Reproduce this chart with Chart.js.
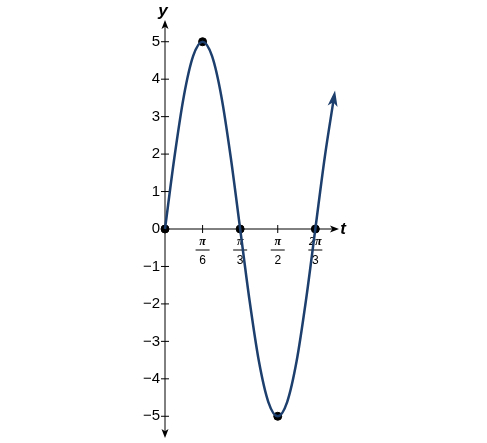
<!DOCTYPE html>
<html>
<head>
<meta charset="utf-8">
<script src="https://cdn.jsdelivr.net/npm/chart.js@4/dist/chart.umd.min.js"></script>
<style>body{margin:0;background:#fff}#c{display:block}</style>
</head>
<body>
<canvas id="c" width="487" height="443"></canvas>
<script>
// t in units of pi/6, sampled every pi/24
const curveT = [0,0.25,0.5,0.75,1,1.25,1.5,1.75,2,2.25,2.5,2.75,3,3.25,3.5,3.75,4,4.25,4.5];
const curveY = [0,1.91,3.54,4.62,5,4.62,3.54,1.91,0,-1.91,-3.54,-4.62,-5,-4.62,-3.54,-1.91,0,1.91,3.54];
const dotT = [0,1,2,3,4];
const dotY = [0,5,0,-5,0];
const yTicks = [-5,-4,-3,-2,-1,0,1,2,3,4,5];
const xTicks = [1,2,3,4];
const xTickNum = ['π','π','π','2π'];
const xTickDen = ['6','3','2','3'];

const blue = '#1d3f6e';

function arrow(ctx, x, y, ang, len, w, color) {
  ctx.save();
  ctx.translate(x, y); ctx.rotate(ang);
  ctx.fillStyle = color;
  ctx.beginPath(); ctx.moveTo(0,0); ctx.lineTo(-len, -w); ctx.lineTo(-len*0.75,0); ctx.lineTo(-len, w); ctx.closePath(); ctx.fill();
  ctx.restore();
}

const axesPlugin = {
  id: 'axes',
  beforeDatasetsDraw(chart) {
    const ctx = chart.ctx, xs = chart.scales.x, ys = chart.scales.y;
    const x0 = xs.getPixelForValue(0), y0 = ys.getPixelForValue(0);
    ctx.save();
    ctx.strokeStyle = '#000'; ctx.lineWidth = 1;
    ctx.beginPath();
    ctx.moveTo(x0, ys.top); ctx.lineTo(x0, ys.bottom);
    ctx.moveTo(x0, y0); ctx.lineTo(xs.right, y0);
    ctx.stroke();
    arrow(ctx, x0, ys.top - 3, -Math.PI/2, 9, 3.5, '#000');
    arrow(ctx, x0, ys.bottom + 3, Math.PI/2, 9, 3.5, '#000');
    arrow(ctx, xs.right + 3, y0, 0, 9, 3.5, '#000');
    ctx.fillStyle = '#000';
    ctx.font = '15px "Liberation Sans", Arial, sans-serif';
    ctx.textAlign = 'right'; ctx.textBaseline = 'middle';
    yTicks.forEach(v => {
      const py = ys.getPixelForValue(v);
      ctx.beginPath(); ctx.moveTo(x0 - 4, py); ctx.lineTo(x0 + 4, py); ctx.stroke();
      ctx.fillText(v < 0 ? '−' + (-v) : String(v), x0 - 5, py);
    });
    ctx.textAlign = 'center';
    xTicks.forEach((v, i) => {
      const px = xs.getPixelForValue(v);
      ctx.beginPath(); ctx.moveTo(px, y0 - 4); ctx.lineTo(px, y0 + 4); ctx.stroke();
      ctx.font = 'italic bold 12px "Liberation Serif", serif';
      ctx.fillText(xTickNum[i], px, y0 + 13);
      ctx.beginPath(); ctx.moveTo(px - 7, y0 + 21); ctx.lineTo(px + 7, y0 + 21); ctx.stroke();
      ctx.font = '12px "Liberation Sans", Arial, sans-serif';
      ctx.fillText(xTickDen[i], px, y0 + 32);
    });
    ctx.font = 'italic bold 17px "Liberation Sans", Arial, sans-serif';
    ctx.fillText('y', x0 - 2, ys.top - 12);
    ctx.fillText('t', xs.right + 7, y0);
    ctx.restore();
  },
  afterDatasetsDraw(chart) {
    const meta = chart.getDatasetMeta(0).data;
    const a = meta[meta.length - 2], b = meta[meta.length - 1];
    const ang = Math.atan2(b.y - a.y, b.x - a.x);
    arrow(chart.ctx, b.x + Math.cos(ang) * 6, b.y + Math.sin(ang) * 6, ang, 16, 5, blue);
  }
};

new Chart(document.getElementById('c'), {
  type: 'scatter',
  data: {
    datasets: [
      { data: curveT.map((t, i) => ({ x: t, y: curveY[i] })), showLine: true, borderColor: blue,
        borderWidth: 2.5, pointRadius: 0, tension: 0.4, cubicInterpolationMode: 'monotone' },
      { data: dotT.map((t, i) => ({ x: t, y: dotY[i] })), backgroundColor: '#000', borderColor: '#000',
        pointRadius: 4 }
    ]
  },
  options: {
    responsive: false, animation: false, clip: false,
    layout: { padding: { left: 165, right: 151, top: 23, bottom: 8 } },
    scales: {
      x: { type: 'linear', min: 0, max: 4.55, display: false },
      y: { min: -5.5, max: 5.5, display: false }
    },
    plugins: { legend: { display: false }, tooltip: { enabled: false } }
  },
  plugins: [axesPlugin]
});
</script>
</body>
</html>
